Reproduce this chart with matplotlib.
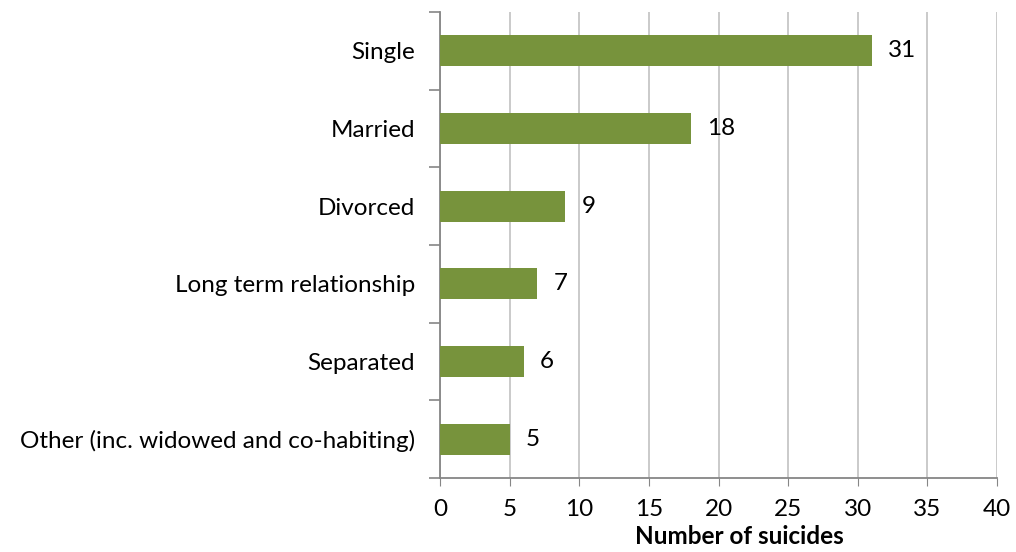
import matplotlib.pyplot as plt
import numpy as np

categories = ["Single", "Married", "Divorced", "Long term relationship",
              "Separated", "Other (inc. widowed and co-habiting)"]
values = [31, 18, 9, 7, 6, 5]

plt.rcParams["font.family"] = ["Lato", "DejaVu Sans"]

fig = plt.figure(figsize=(10.16, 5.52), dpi=100)
ax = fig.add_axes([440 / 1016, 1 - 478 / 552, (997 - 440) / 1016, (478 - 12) / 552])

y = np.arange(len(categories))
ax.barh(y, values, height=0.4, color="#77933C", zorder=3)
ax.set_ylim(len(categories) - 0.5, -0.5)
ax.set_xlim(0, 40)

for yi, v in zip(y, values):
    ax.text(v + 1.15, yi, str(v), va="center", ha="left", fontsize=17.5)

ax.set_xticks(np.arange(0, 41, 5))
ax.tick_params(axis="x", labelsize=17.5, length=6, color="#868686", pad=9)
ax.set_yticks(y)
ax.set_yticklabels(categories, fontsize=17.5)
ax.tick_params(axis="y", which="major", length=0, pad=18)
ax.set_yticks(np.arange(-0.5, len(categories)), minor=True)
ax.tick_params(axis="y", which="minor", length=8, color="#868686", width=1.2)

ax.grid(axis="x", color="#c6c6c6", linewidth=1.3, zorder=0)
for s in ["top", "right"]:
    ax.spines[s].set_visible(False)
for s in ["left", "bottom"]:
    ax.spines[s].set_color("#868686")
    ax.spines[s].set_linewidth(1.3)

ax.set_xlabel("Number of suicides", fontsize=17.5, fontweight="bold", labelpad=0)
ax.xaxis.set_label_coords(0.537, -0.1)

fig.savefig("out.png", dpi=100)
